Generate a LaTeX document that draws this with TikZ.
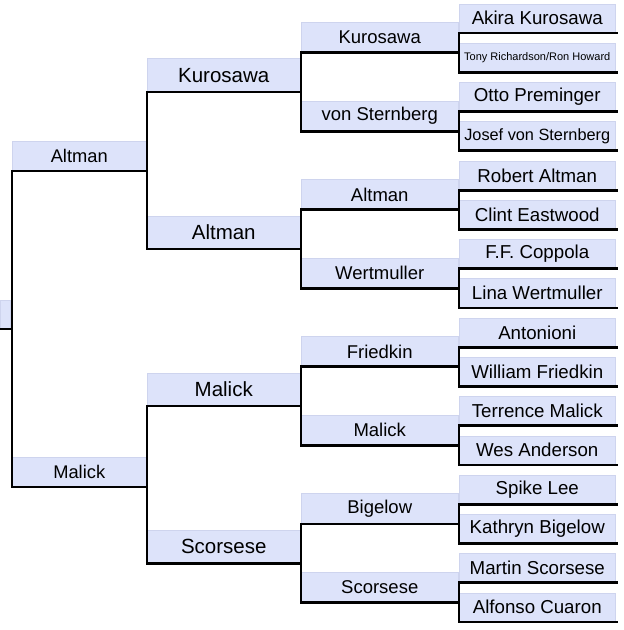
\documentclass[tikz,border=0pt]{standalone}
\usepackage{fontspec}
\setmainfont{Liberation Sans}
\definecolor{boxfill}{HTML}{DDE3FA}
\definecolor{boxedge}{HTML}{CED4EE}
\definecolor{txt}{HTML}{000000}
\begin{document}
\begin{tikzpicture}[x=1pt,y=-1pt,
  box/.style={rectangle, fill=boxfill, draw=boxedge, line width=0.5pt, inner sep=0pt, anchor=south west, text=txt, align=center},
  leafbox/.style={box, minimum width=156pt, minimum height=29pt, font=\fontsize{18.7}{20}\selectfont},
  thirdbox/.style={box, minimum width=157pt, minimum height=30pt, font=\fontsize{18.5}{20}\selectfont},
  secondbox/.style={box, minimum width=153pt, minimum height=33pt, font=\fontsize{20.5}{22}\selectfont},
  firstbox/.style={box, minimum width=134pt, minimum height=30pt, font=\fontsize{18.3}{20}\selectfont},
  rootbox/.style={box, minimum width=10pt, minimum height=29pt},
  bline/.style={draw=black, line width=2.8pt, line cap=rect}
]
\useasboundingbox (0,0) rectangle (624,630);

% leaves
\node[leafbox] (L1)  at (459,33)    {Akira Kurosawa};
\node[leafbox, font=\fontsize{11}{12}\selectfont] (L2)  at (459,72.3)  {Tony Richardson/Ron Howard};
\node[leafbox] (L3)  at (459,111.5) {Otto Preminger};
\node[leafbox, font=\fontsize{16.3}{18}\selectfont] (L4)  at (459,150.8) {Josef von Sternberg};
\node[leafbox] (L5)  at (459,190.1) {Robert Altman};
\node[leafbox] (L6)  at (459,229.4) {Clint Eastwood};
\node[leafbox] (L7)  at (459,268.6) {F.F. Coppola};
\node[leafbox] (L8)  at (459,307.9) {Lina Wertmuller};
\node[leafbox] (L9)  at (459,347.2) {Antonioni};
\node[leafbox] (L10) at (459,386.4) {William Friedkin};
\node[leafbox] (L11) at (459,425.7) {Terrence Malick};
\node[leafbox] (L12) at (459,465.0) {Wes Anderson};
\node[leafbox] (L13) at (459,504.2) {Spike Lee};
\node[leafbox] (L14) at (459,543.5) {Kathryn Bigelow};
\node[leafbox] (L15) at (459,582.8) {Martin Scorsese};
\node[leafbox] (L16) at (459,622)   {Alfonso Cuaron};

% third column
\node[thirdbox] (T1) at (301,52.6)  {Kurosawa};
\node[thirdbox] (T2) at (301,131.2) {von Sternberg};
\node[thirdbox] (T3) at (301,209.7) {Altman};
\node[thirdbox] (T4) at (301,288.3) {Wertmuller};
\node[thirdbox] (T5) at (301,366.8) {Friedkin};
\node[thirdbox] (T6) at (301,445.3) {Malick};
\node[thirdbox] (T7) at (301,523.9) {Bigelow};
\node[thirdbox] (T8) at (301,602.4) {Scorsese};

% second column
\node[secondbox] (S1) at (147,91.9)  {Kurosawa};
\node[secondbox] (S2) at (147,249)   {Altman};
\node[secondbox] (S3) at (147,406)   {Malick};
\node[secondbox] (S4) at (147,563.1) {Scorsese};

% first column
\node[firstbox] (F1) at (12,171) {Altman};
\node[firstbox] (F2) at (12,487) {Malick};

% root (cut by the left edge)
\node[rootbox] (R) at (0,329) {};

% leaf lines
\foreach \n in {L1,L2,L3,L4,L5,L6,L7,L8,L9,L10,L11,L12,L13,L14,L15,L16}
  \draw[bline] (\n.south west) -- ([xshift=1.5pt]\n.south east);

% brackets: leaves to third column
\foreach \p/\a/\b in {T1/L1/L2,T2/L3/L4,T3/L5/L6,T4/L7/L8,T5/L9/L10,T6/L11/L12,T7/L13/L14,T8/L15/L16}{
  \draw[bline] (\a.south west) -- (\b.south west);
  \draw[bline] (\p.south west) -- (\p.south west -| \a.south west);
}
% third to second
\foreach \p/\a/\b in {S1/T1/T2,S2/T3/T4,S3/T5/T6,S4/T7/T8}{
  \draw[bline] (\a.south west) -- (\b.south west);
  \draw[bline] (\p.south west) -- (\p.south west -| \a.south west);
}
% second to first
\foreach \p/\a/\b in {F1/S1/S2,F2/S3/S4}{
  \draw[bline] (\a.south west) -- (\b.south west);
  \draw[bline] (\p.south west) -- (\p.south west -| \a.south west);
}
% first to root
\draw[bline] (F1.south west) -- (F2.south west);
\draw[bline] (R.south west) -- (R.south west -| F1.south west);
\end{tikzpicture}
\end{document}
